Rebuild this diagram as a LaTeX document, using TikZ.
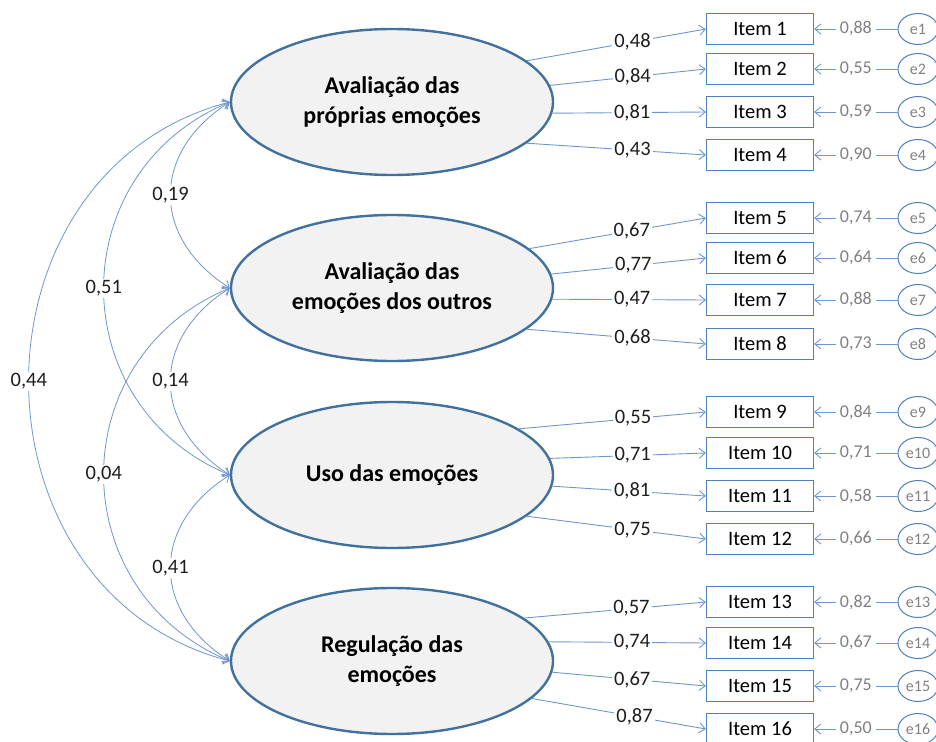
\documentclass[tikz,border=0pt]{standalone}
\usepackage{fontspec}
\setmainfont{Carlito}
\usetikzlibrary{arrows.meta,shapes.geometric}
\definecolor{ellborder}{RGB}{65,113,156}
\definecolor{ellfill}{RGB}{242,242,242}
\definecolor{linecol}{RGB}{110,150,205}
\definecolor{boxcol}{RGB}{79,129,189}
\definecolor{graytxt}{RGB}{128,128,128}
\definecolor{txt}{RGB}{30,30,30}
\begin{document}
\begin{tikzpicture}[x=1pt,y=-1pt,
  latent/.style={ellipse, draw=ellborder, line width=2.4pt, fill=ellfill,
    minimum width=322pt, minimum height=146pt, inner sep=0pt, align=center,
    font=\fontsize{24}{30}\selectfont\bfseries},
  item/.style={draw=boxcol, line width=1.2pt, minimum width=107pt,
    minimum height=31pt, inner sep=0pt, font=\fontsize{20.5}{24}\selectfont},
  err/.style={ellipse, draw=boxcol, line width=1pt, minimum width=40pt,
    minimum height=31pt, inner sep=0pt, text=graytxt,
    font=\fontsize{16}{18}\selectfont},
  load/.style={draw=linecol, line width=0.9pt, -{Straight Barb[length=6pt,width=10pt]}},
  cov/.style={draw=linecol, line width=0.8pt,
    {Straight Barb[length=6pt,width=10pt]}-{Straight Barb[length=6pt,width=10pt]}},
  lab/.style={fill=white, inner sep=2pt, text=txt, font=\fontsize{20.5}{24}\selectfont},
  elab/.style={fill=white, inner xsep=4pt, inner ysep=2pt, text=graytxt, font=\fontsize{18}{21}\selectfont},
]
\useasboundingbox (0,0) rectangle (936,741);

% latent variables
\node[latent] (L1) at (392,102) {Avaliação das\\próprias emoções};
\node[latent] (L2) at (392,288) {Avaliação das\\emoções dos outros};
\node[latent] (L3) at (392,475) {Uso das emoções};
\node[latent] (L4) at (392,661) {Regulação das\\emoções};

% items
\node[item] (I1)  at (760,29)  {Item 1};
\node[item] (I2)  at (760,69)  {Item 2};
\node[item] (I3)  at (760,112) {Item 3};
\node[item] (I4)  at (760,155) {Item 4};
\node[item] (I5)  at (760,218) {Item 5};
\node[item] (I6)  at (760,258) {Item 6};
\node[item] (I7)  at (760,300) {Item 7};
\node[item] (I8)  at (760,344) {Item 8};
\node[item] (I9)  at (760,412) {Item 9};
\node[item] (I10) at (760,453) {Item 10};
\node[item] (I11) at (760,496) {Item 11};
\node[item] (I12) at (760,539) {Item 12};
\node[item] (I13) at (760,602) {Item 13};
\node[item] (I14) at (760,643) {Item 14};
\node[item] (I15) at (760,686) {Item 15};
\node[item] (I16) at (760,729) {Item 16};

% error terms
\node[err] (E1)  at (918,29)  {e1};
\node[err] (E2)  at (918,69)  {e2};
\node[err] (E3)  at (918,112) {e3};
\node[err] (E4)  at (918,155) {e4};
\node[err] (E5)  at (918,218) {e5};
\node[err] (E6)  at (918,258) {e6};
\node[err] (E7)  at (918,300) {e7};
\node[err] (E8)  at (918,344) {e8};
\node[err] (E9)  at (918,412) {e9};
\node[err] (E10) at (918,453) {e10};
\node[err] (E11) at (918,496) {e11};
\node[err] (E12) at (918,539) {e12};
\node[err] (E13) at (918,602) {e13};
\node[err] (E14) at (918,643) {e14};
\node[err] (E15) at (918,686) {e15};
\node[err] (E16) at (918,729) {e16};

% loadings
\draw[load] (L1.17) -- node[lab,pos=0.59] {0,48} (I1.west);
\draw[load] (L1.6)  -- node[lab,pos=0.53] {0,84} (I2.west);
\draw[load] (L1.-4) -- node[lab,pos=0.52] {0,81} (I3.west);
\draw[load] (L1.-17) -- node[lab,pos=0.59] {0,43} (I4.west);

\draw[load] (L2.16) -- node[lab,pos=0.58] {0,67} (I5.west);
\draw[load] (L2.5)  -- node[lab,pos=0.53] {0,77} (I6.west);
\draw[load] (L2.-4) -- node[lab,pos=0.52] {0,47} (I7.west);
\draw[load] (L2.-17) -- node[lab,pos=0.59] {0,68} (I8.west);

\draw[load] (L3.20) -- node[lab,pos=0.61] {0,55} (I9.west);
\draw[load] (L3.6)  -- node[lab,pos=0.53] {0,71} (I10.west);
\draw[load] (L3.-4) -- node[lab,pos=0.52] {0,81} (I11.west);
\draw[load] (L3.-17) -- node[lab,pos=0.59] {0,75} (I12.west);

\draw[load] (L4.18) -- node[lab,pos=0.59] {0,57} (I13.west);
\draw[load] (L4.7)  -- node[lab,pos=0.53] {0,74} (I14.west);
\draw[load] (L4.-4) -- node[lab,pos=0.52] {0,67} (I15.west);
\draw[load] (L4.-15) -- node[lab,pos=0.59] {0,87} (I16.west);

% error paths
\draw[load] (E1.west)  -- node[elab] {0,88} (I1.east);
\draw[load] (E2.west)  -- node[elab] {0,55} (I2.east);
\draw[load] (E3.west)  -- node[elab] {0,59} (I3.east);
\draw[load] (E4.west)  -- node[elab] {0,90} (I4.east);
\draw[load] (E5.west)  -- node[elab] {0,74} (I5.east);
\draw[load] (E6.west)  -- node[elab] {0,64} (I6.east);
\draw[load] (E7.west)  -- node[elab] {0,88} (I7.east);
\draw[load] (E8.west)  -- node[elab] {0,73} (I8.east);
\draw[load] (E9.west)  -- node[elab] {0,84} (I9.east);
\draw[load] (E10.west) -- node[elab] {0,71} (I10.east);
\draw[load] (E11.west) -- node[elab] {0,58} (I11.east);
\draw[load] (E12.west) -- node[elab] {0,66} (I12.east);
\draw[load] (E13.west) -- node[elab] {0,82} (I13.east);
\draw[load] (E14.west) -- node[elab] {0,67} (I14.east);
\draw[load] (E15.west) -- node[elab] {0,75} (I15.east);
\draw[load] (E16.west) -- node[elab] {0,50} (I16.east);

% covariances
\draw[cov] (L1.west) .. controls +(-268,70) and +(-268,-70) .. node[lab] {0,44} (L4.west);
\draw[cov] (L1.west) .. controls +(-168,70) and +(-168,-70) .. node[lab] {0,51} (L3.west);
\draw[cov] (L2.west) .. controls +(-168,70) and +(-168,-70) .. node[lab] {0,04} (L4.west);
\draw[cov] (L1.west) .. controls +(-79,50) and +(-79,-50) .. node[lab] {0,19} (L2.west);
\draw[cov] (L2.west) .. controls +(-79,50) and +(-79,-50) .. node[lab] {0,14} (L3.west);
\draw[cov] (L3.west) .. controls +(-79,50) and +(-79,-50) .. node[lab] {0,41} (L4.west);
\end{tikzpicture}
\end{document}
